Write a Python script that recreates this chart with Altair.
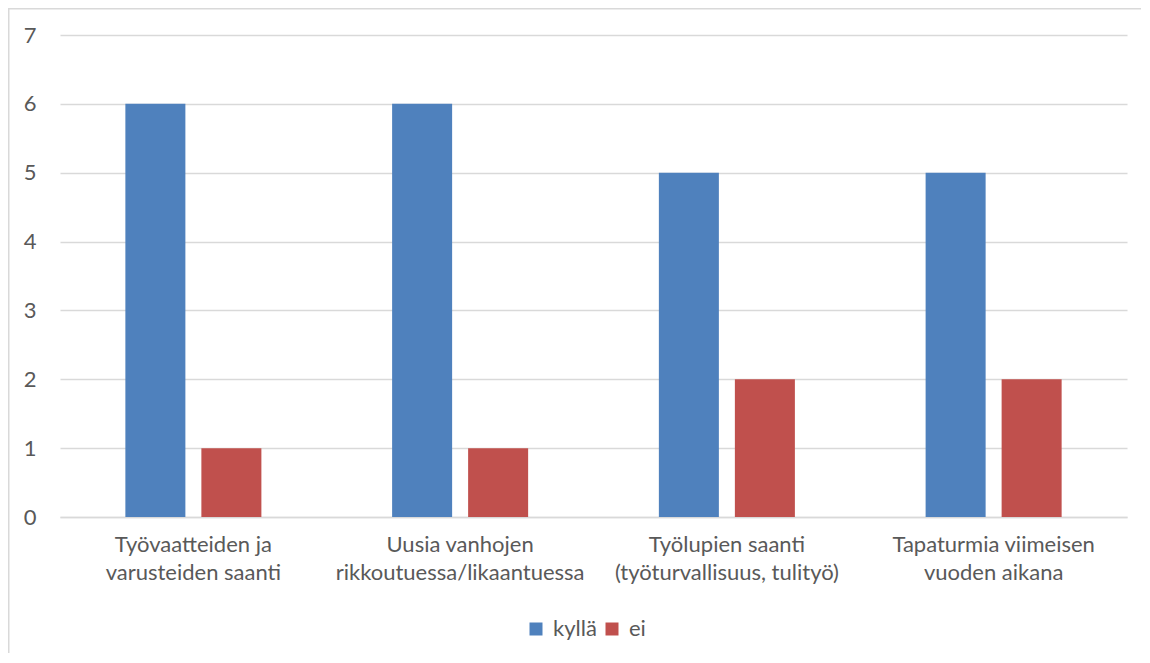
import altair as alt
import pandas as pd

categories = [
    "Työvaatteiden ja|varusteiden saanti",
    "Uusia vanhojen|rikkoutuessa/likaantuessa",
    "Työlupien saanti|(työturvallisuus, tulityö)",
    "Tapaturmia viimeisen|vuoden aikana",
]
series = ["kyllä", "ei"]
kylla = [6, 6, 5, 5]
ei = [1, 1, 2, 2]
colors = ["#4F81BD", "#C0504D"]

rows = []
for c, k, e in zip(categories, kylla, ei):
    rows.append({"cat": c, "series": "kyllä", "value": k})
    rows.append({"cat": c, "series": "ei", "value": e})
df = pd.DataFrame(rows)

FONT = "Lato"
TXT = "#595959"
GRID = "#D9D9D9"

bars = alt.Chart(df).mark_bar().encode(
    x=alt.X(
        "cat:N",
        sort=categories,
        scale=alt.Scale(paddingInner=0, paddingOuter=0),
        axis=alt.Axis(
            title=None,
            labelAngle=0,
            labelExpr="split(datum.label, '|')",
            labelFont=FONT,
            labelFontSize=22,
            labelColor=TXT,
            labelPadding=17,
            labelLineHeight=28,
            labelBaseline="top",
            labelLimit=0,
            ticks=False,
            domain=True,
            domainColor=GRID,
            domainWidth=1.5,
            grid=False,
        ),
    ),
    xOffset=alt.XOffset(
        "series:N",
        sort=series,
        scale=alt.Scale(paddingInner=0.2105, paddingOuter=0.86),
    ),
    y=alt.Y(
        "value:Q",
        scale=alt.Scale(domain=[0, 7], nice=False),
        axis=alt.Axis(
            title=None,
            values=[0, 1, 2, 3, 4, 5, 6, 7],
            labelFont=FONT,
            labelFontSize=22,
            labelColor=TXT,
            labelPadding=24,
            ticks=False,
            domain=False,
            gridColor=GRID,
            gridWidth=1.5,
        ),
    ),
    color=alt.Color(
        "series:N",
        sort=series,
        scale=alt.Scale(domain=series, range=colors),
        legend=alt.Legend(
            title=None,
            orient="none",
            direction="horizontal",
            legendX=465,
            legendY=583,
            padding=0,
            symbolType="square",
            symbolSize=169,
            symbolStrokeWidth=0,
            symbolOpacity=1,
            labelFont=FONT,
            labelFontSize=22,
            labelColor=TXT,
            labelOffset=6,
            columnPadding=4,
        ),
    ),
)

border = alt.Chart(pd.DataFrame({"a": [0]})).mark_rect(
    fill=None, stroke=GRID, strokeWidth=2
).encode(
    x=alt.value(-51.5),
    x2=alt.value(3000),
    y=alt.value(-26.5),
    y2=alt.value(3000),
)

chart = alt.layer(bars, border).properties(
    width=1067,
    height=482,
    autosize=alt.AutoSizeParams(type="none"),
    padding={"left": 52, "top": 27, "right": 14, "bottom": 136},
    background="white",
).configure_view(stroke=None)

chart.save("out.html", embed_options={"renderer": "svg", "actions": False})
